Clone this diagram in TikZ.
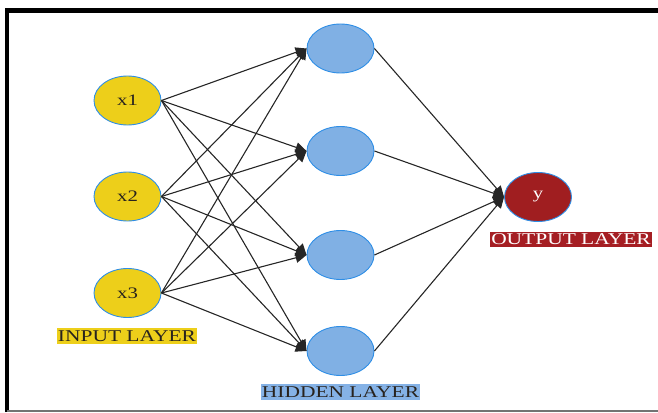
\documentclass[tikz,border=0pt]{standalone}
\usepackage{fontspec}
\setmainfont{Liberation Serif}
\newfontfamily\stretchfont[FakeStretch=1.3]{Liberation Serif}
\usetikzlibrary{arrows.meta,shapes.geometric}
\definecolor{inyellow}{RGB}{237,207,26}
\definecolor{hidblue}{RGB}{128,176,228}
\definecolor{edgeblue}{RGB}{46,142,230}
\definecolor{outred}{RGB}{160,30,32}
\definecolor{lblblue}{RGB}{133,178,230}
\definecolor{lblred}{RGB}{165,30,35}
\definecolor{txtdark}{RGB}{40,35,30}
\tikzset{
  neuron/.style={ellipse, draw=edgeblue, line width=0.9pt, minimum width=67pt, minimum height=49pt, inner sep=0pt,
    font=\stretchfont\fontsize{16}{18}\selectfont, text=txtdark},
  innode/.style={neuron, fill=inyellow},
  hidnode/.style={neuron, fill=hidblue},
  outnode/.style={neuron, fill=outred, text=white},
  layerlabel/.style={inner xsep=1pt, inner ysep=1.5pt, font=\stretchfont\fontsize{16.5}{18}\selectfont, text=txtdark, text height=11.5pt, text depth=1pt},
  conn/.style={draw=black!85, line width=1.1pt, -{Triangle[length=11pt,width=10pt]}}
}
\begin{document}
\begin{tikzpicture}[x=1pt,y=-1pt]
\useasboundingbox (0,0) rectangle (658,412);
% frame
\draw[line width=4.5pt, line join=miter] (7,412) -- (7,10.5) -- (658,10.5);
\draw[black!55, line width=2pt] (7,410.5) -- (658,410.5);
% input nodes
\node[innode] (x1) at (127.5,100.5) {x1};
\node[innode] (x2) at (127.5,196.5) {x2};
\node[innode] (x3) at (127.5,293) {x3};
% hidden nodes
\node[hidnode] (h1) at (340.5,48.5) {};
\node[hidnode] (h2) at (340.5,151) {};
\node[hidnode] (h3) at (340.5,255) {};
\node[hidnode] (h4) at (340.5,351) {};
% output
\node[outnode] (y) at (538,197) {y};
% labels
\node[layerlabel, fill=inyellow] (lin) at (127,336) {INPUT LAYER};
\node[layerlabel, fill=lblblue] (lhid) at (340.5,392) {HIDDEN LAYER};
\node[layerlabel, fill=lblred, text=white] (lout) at (571,239.5) {OUTPUT LAYER};
% connections
\foreach \i in {x1,x2,x3}{
  \foreach \j in {h1,h2,h3,h4}{
    \draw[conn] (\i.east) -- (\j.west);
  }
}
\foreach \j in {h1,h2,h3,h4}{
  \draw[conn] (\j.east) -- (y.west);
}
\end{tikzpicture}
\end{document}
